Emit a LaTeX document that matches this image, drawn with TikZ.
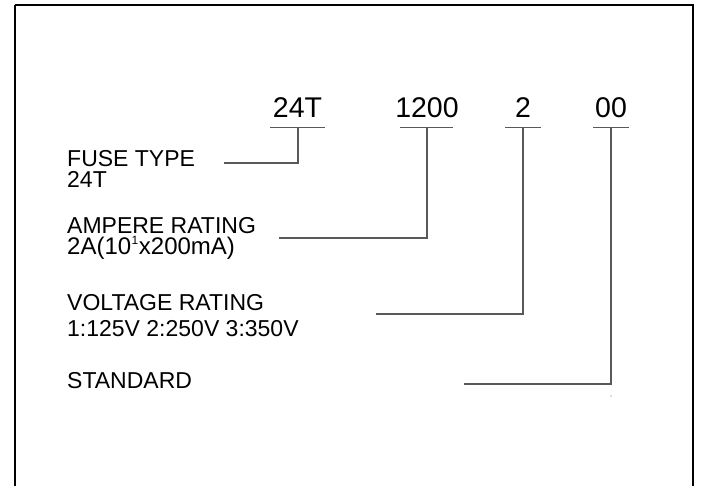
\documentclass[tikz,border=0pt]{standalone}
\usepackage{fontspec}
\setmainfont{Liberation Sans}
\begin{document}
\begin{tikzpicture}[x=1pt,y=-1pt,
  code/.style={font=\fontsize{28.5}{30}\selectfont, anchor=base, inner sep=0pt},
  lab/.style={font=\fontsize{23}{24}\selectfont, anchor=base west, inner sep=0pt},
  lead/.style={draw=black!65, line width=1.3pt},
  frame/.style={draw=black, line width=2pt}]
\useasboundingbox (0,0) rectangle (705,486);
\clip (0,0) rectangle (705,486);
\draw[frame] (15,5) -- (693,5) -- (693,500);
\draw[frame] (15,5) -- (15,500);
% code digits
\node[code] (c1) at (297.5,118) {24T};
\node[code] (c2) at (427,118) {1200};
\node[code] (c3) at (523,118) {2};
\node[code] (c4) at (611,118) {00};
% labels
\node[lab] (l1) at (67,167) {FUSE TYPE};
\node[lab] (l1b) at (67,188) {24T};
\node[lab] (l2) at (67,234) {AMPERE RATING};
\node[lab, font=\fontsize{24}{24}\selectfont] (l2b) at (67,255) {2A(10\kern0.5pt\raisebox{0.42em}{\fontsize{12}{12}\selectfont 1}\kern0.5pt x200mA)};
\node[lab] (l3) at (67,311) {VOLTAGE RATING};
\node[lab] (l3b) at (67,337) {1:125V 2:250V 3:350V};
\node[lab] (l4) at (67,389) {STANDARD};
% underline coordinates
\coordinate (u1a) at (270,127.5); \coordinate (u1b) at (325,127.5); \coordinate (u1m) at (298,127.5);
\coordinate (u2a) at (400,127.5); \coordinate (u2b) at (453,127.5); \coordinate (u2m) at (427,127.5);
\coordinate (u3a) at (505,127.5); \coordinate (u3b) at (541,127.5); \coordinate (u3m) at (523,127.5);
\coordinate (u4a) at (593,127.5); \coordinate (u4b) at (629,127.5); \coordinate (u4m) at (611,127.5);
% leader starts
\coordinate (s1) at (224,163);
\coordinate (s2) at (279,238);
\coordinate (s3) at (376,314);
\coordinate (s4) at (464,384);
\draw[lead] (u1a) -- (u1b);
\draw[lead] (u2a) -- (u2b);
\draw[lead] (u3a) -- (u3b);
\draw[lead] (u4a) -- (u4b);
\draw[lead] (s1) -| (u1m);
\draw[lead] (s2) -| (u2m);
\draw[lead] (s3) -| (u3m);
\draw[lead] (s4) -| (u4m);
\fill[black!60] (611,396) circle (0.6);
\end{tikzpicture}
\end{document}
